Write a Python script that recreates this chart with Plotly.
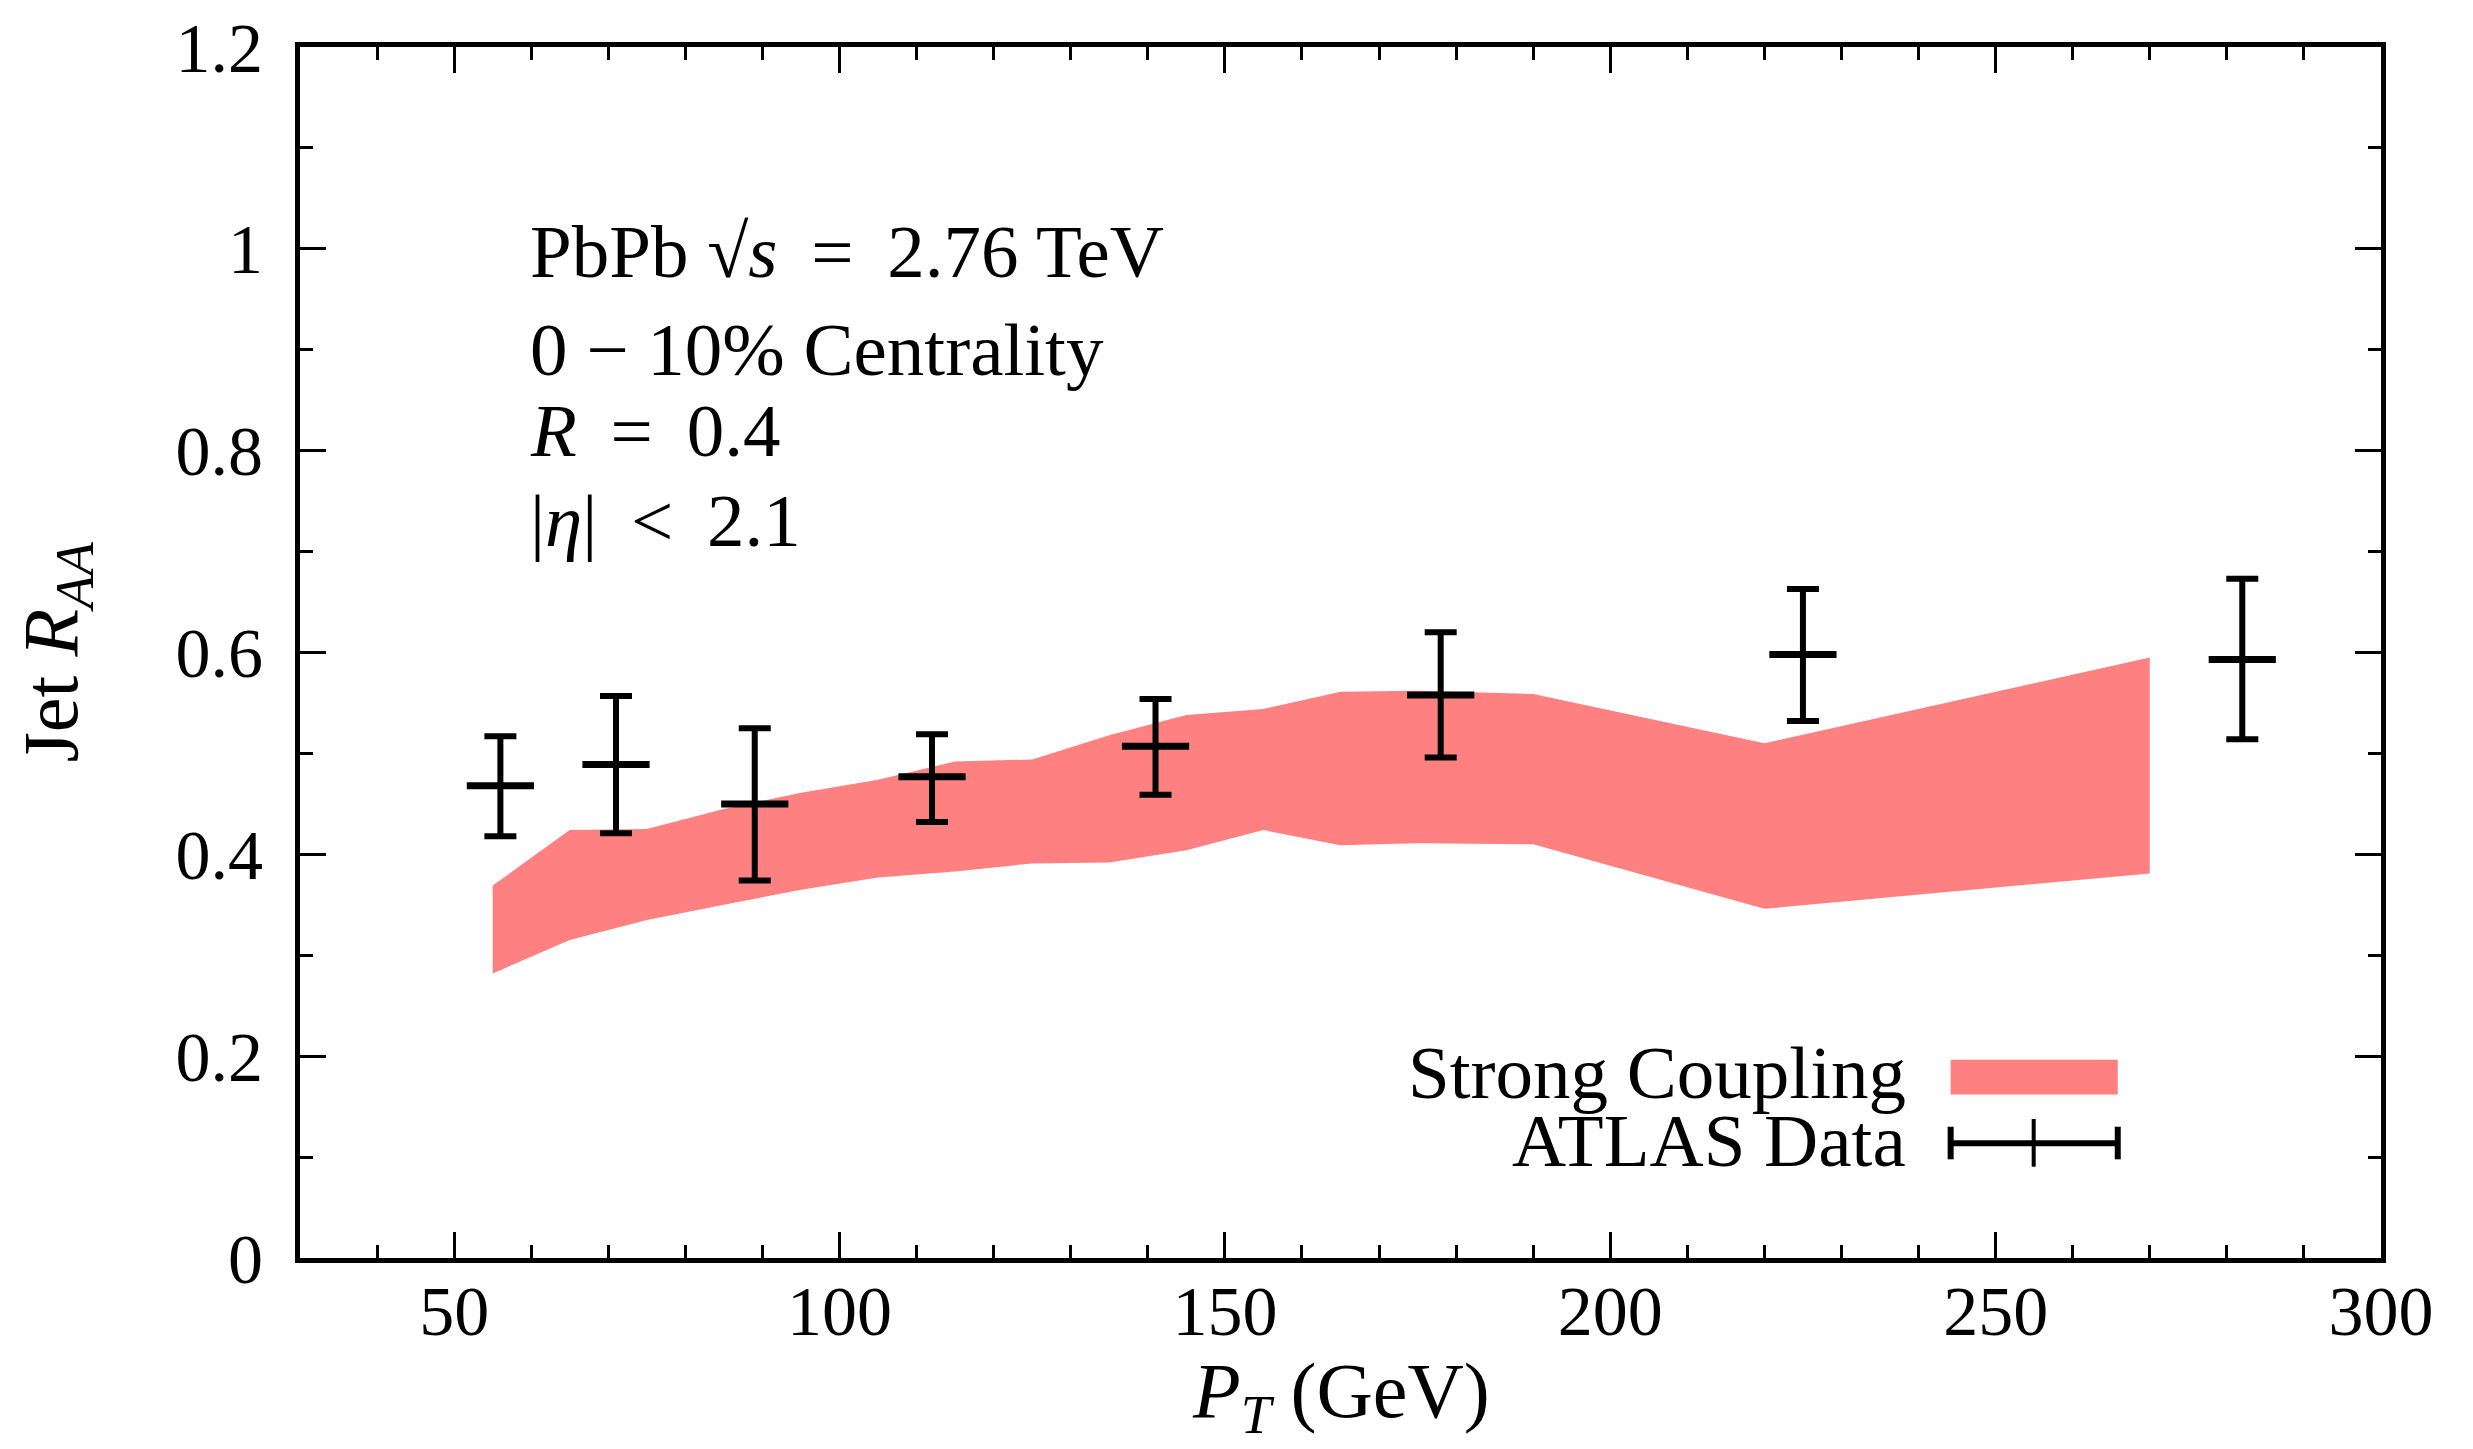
import plotly.graph_objects as go

# ---------------- data ----------------
# Strong coupling band (theory): pT nodes, upper and lower edges
band_pt = [55, 65, 75, 85, 95, 105, 115, 125, 135, 145, 155, 165, 175, 190, 220, 270]
band_upper = [0.369, 0.424, 0.425, 0.445, 0.461, 0.474, 0.492, 0.494, 0.518, 0.538, 0.544, 0.561, 0.562, 0.559, 0.510, 0.595]
band_lower = [0.282, 0.315, 0.335, 0.350, 0.365, 0.377, 0.383, 0.391, 0.392, 0.404, 0.424, 0.409, 0.411, 0.410, 0.346, 0.381]

# ATLAS data points
atlas_pt = [56, 71, 89, 112, 141, 178, 225, 282]
atlas_raa = [0.468, 0.489, 0.450, 0.477, 0.507, 0.558, 0.598, 0.593]
atlas_hi = [0.517, 0.557, 0.525, 0.519, 0.554, 0.620, 0.663, 0.673]
atlas_lo = [0.418, 0.421, 0.374, 0.432, 0.459, 0.496, 0.532, 0.514]

x_tickvals = [50, 100, 150, 200, 250, 300]
x_ticktext = ["50", "100", "150", "200", "250", "300"]
y_tickvals = [0, 0.2, 0.4, 0.6, 0.8, 1.0, 1.2]
y_ticktext = ["0", "0.2", "0.4", "0.6", "0.8", "1", "1.2"]

BAND_COLOR = "rgb(255,128,128)"
FONT = "Liberation Serif"
FS_TICK = 70
FS_TEXT = 75
FS_TITLE = 78
TS = "\u2009"  # thin space

fig = go.Figure()

fig.add_trace(go.Scatter(
    x=band_pt + band_pt[::-1],
    y=band_upper + band_lower[::-1],
    fill="toself", fillcolor=BAND_COLOR,
    line=dict(width=0, color=BAND_COLOR),
    mode="lines", hoverinfo="skip", showlegend=False,
))

err_plus = [h - c for h, c in zip(atlas_hi, atlas_raa)]
err_minus = [c - l for c, l in zip(atlas_raa, atlas_lo)]
fig.add_trace(go.Scatter(
    x=atlas_pt, y=atlas_raa, mode="markers",
    marker=dict(symbol="line-ew", size=48, color="black",
                line=dict(width=7, color="black")),
    error_y=dict(type="data", array=err_plus, arrayminus=err_minus,
                 thickness=6, width=16, color="black", symmetric=False),
    showlegend=False,
))

axis_common = dict(
    showline=True, linecolor="black", linewidth=5, mirror="allticks",
    ticks="inside", ticklen=26, tickwidth=3, tickcolor="black",
    showgrid=False, zeroline=False, automargin=False,
    tickfont=dict(family=FONT, size=FS_TICK, color="black"),
)

fig.update_xaxes(
    range=[30, 300], tickvals=x_tickvals, ticktext=x_ticktext,
    minor=dict(ticks="inside", ticklen=13, tickwidth=3, tickcolor="black", dtick=10, tick0=0, showgrid=False),
    ticklabelstandoff=-12,
    **axis_common,
)
fig.update_yaxes(
    range=[0, 1.2], tickvals=y_tickvals, ticktext=y_ticktext,
    minor=dict(ticks="inside", ticklen=13, tickwidth=3, tickcolor="black", dtick=0.1, tick0=0, showgrid=False),
    ticklabelstandoff=18,
    **axis_common,
)

# axis titles as annotations for precise placement
fig.add_annotation(text="<i>P</i><sub><i>T</i></sub> (GeV)", x=0.5, y=-0.114, xref="paper", yref="paper",
                   xanchor="center", yanchor="middle", showarrow=False,
                   font=dict(family=FONT, size=FS_TITLE, color="black"))
fig.add_annotation(text="Jet <i>R</i><sub><i>AA</i></sub>", x=-0.1177, y=0.5, xref="paper", yref="paper",
                   xanchor="center", yanchor="middle", showarrow=False, textangle=-90,
                   font=dict(family=FONT, size=FS_TITLE, color="black"))

# text block
lines = [
    ("PbPb √<i>s</i> " + TS + "=" + TS + " 2.76 TeV", 0.831),
    ("0 − 10% Centrality", 0.750),
    ("<i>R</i> " + TS + "=" + TS + " 0.4", 0.683),
    ("|<i>η</i>| " + TS + "&lt;" + TS + " 2.1", 0.609),
]
for txt, yy in lines:
    fig.add_annotation(text=txt, x=0.1096, y=yy, xref="paper", yref="paper",
                       xanchor="left", yanchor="middle", showarrow=False,
                       font=dict(family=FONT, size=FS_TEXT, color="black"))

# legend (manual)
fig.add_annotation(text="Strong Coupling", x=0.7729, y=0.153, xref="paper", yref="paper",
                   xanchor="right", yanchor="middle", showarrow=False,
                   font=dict(family=FONT, size=FS_TEXT, color="black"))
fig.add_annotation(text="ATLAS Data", x=0.7729, y=0.097, xref="paper", yref="paper",
                   xanchor="right", yanchor="middle", showarrow=False,
                   font=dict(family=FONT, size=FS_TEXT, color="black"))
fig.add_shape(type="rect", xref="paper", yref="paper", x0=0.7932, x1=0.8735, y0=0.1351, y1=0.1637,
              fillcolor=BAND_COLOR, line=dict(width=0))
fig.add_shape(type="line", xref="paper", yref="paper", x0=0.7932, x1=0.8735, y0=0.0947, y1=0.0947,
              line=dict(color="black", width=6))
for xx in (0.7932, 0.8735):
    fig.add_shape(type="line", xref="paper", yref="paper", x0=xx, x1=xx, y0=0.0815, y1=0.1084,
                  line=dict(color="black", width=6))
fig.add_shape(type="line", xref="paper", yref="paper", x0=0.8331, x1=0.8331, y0=0.0754, y1=0.1148,
              line=dict(color="black", width=4))

fig.update_layout(
    width=2473, height=1449,
    margin=dict(l=300, r=92, t=47, b=191, autoexpand=False),
    paper_bgcolor="white", plot_bgcolor="white",
    font=dict(family=FONT, size=FS_TICK, color="black"),
)

fig.write_html("out.html")
